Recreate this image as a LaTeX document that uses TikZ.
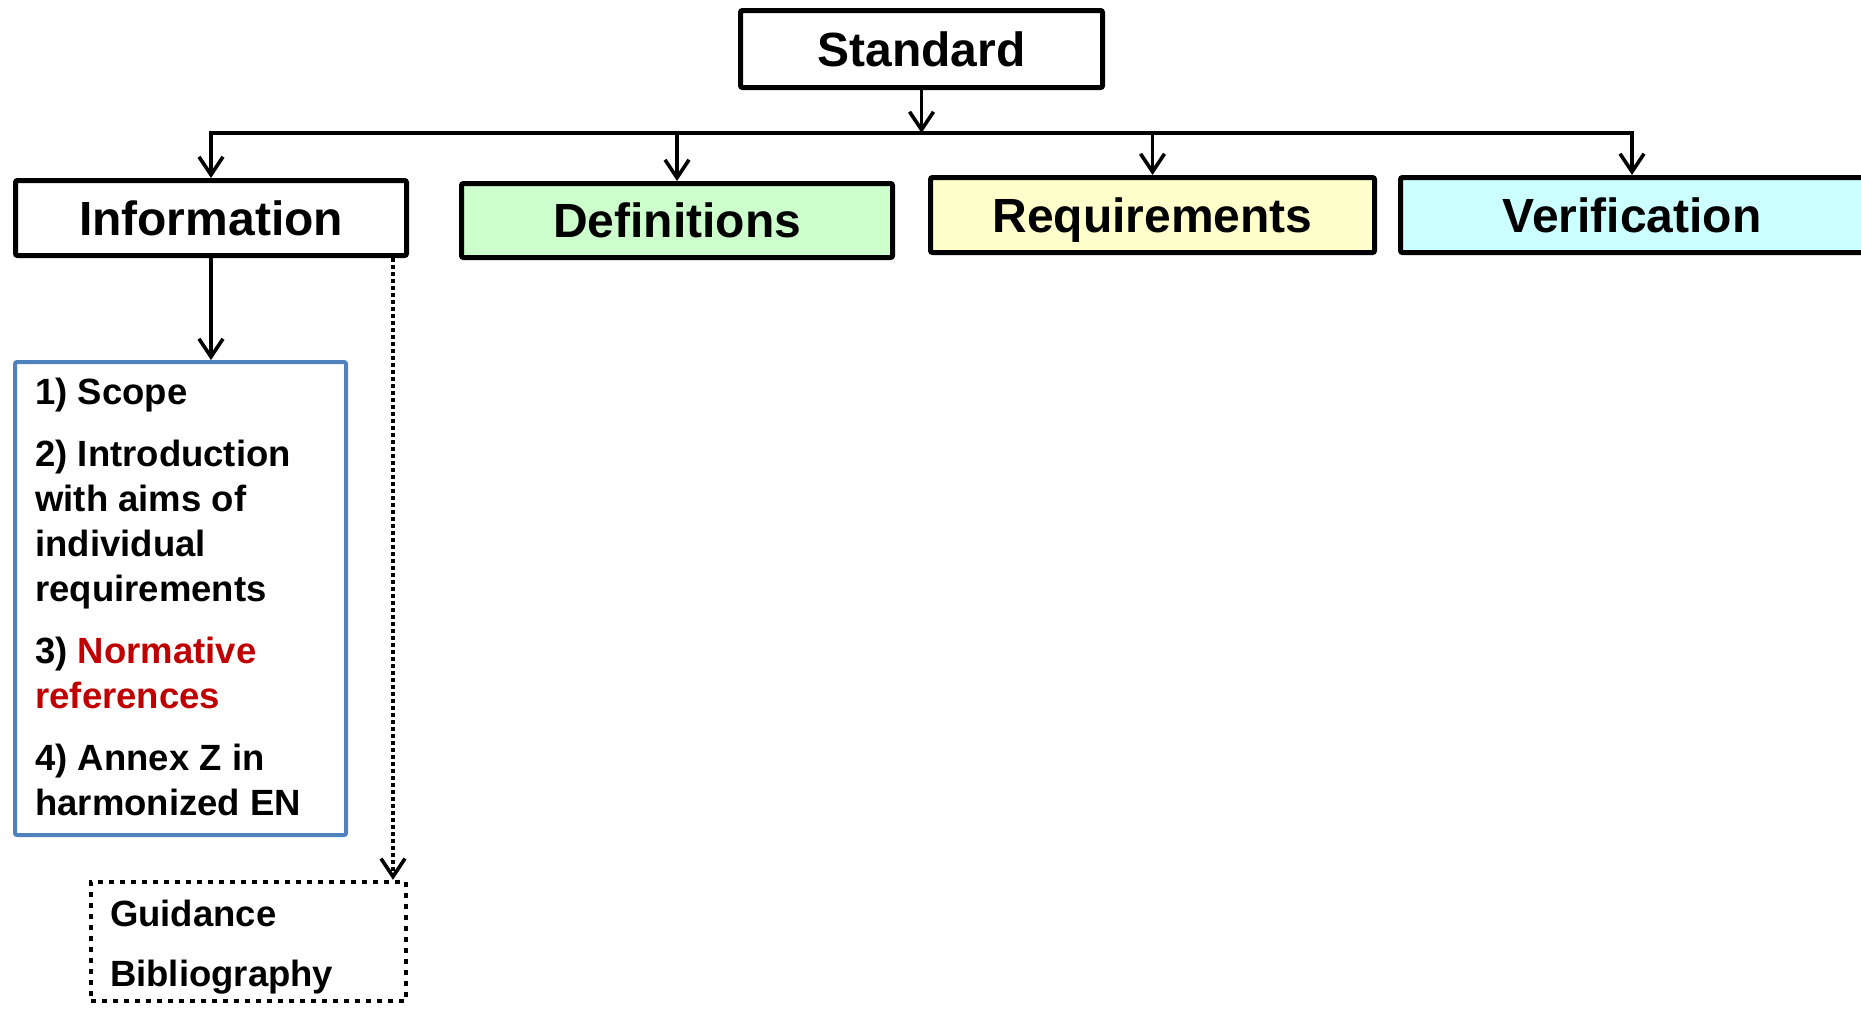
\documentclass[tikz,border=0pt]{standalone}
\usepackage{fontspec}
\setmainfont{Liberation Sans}
\usetikzlibrary{arrows.meta}

\definecolor{defgreen}{HTML}{CCFFCC}
\definecolor{reqyellow}{HTML}{FFFFCC}
\definecolor{vercyan}{HTML}{CCFFFF}
\definecolor{frameblue}{HTML}{4F81BD}
\definecolor{normred}{HTML}{C00000}

\begin{document}
\begin{tikzpicture}[x=0.5pt,y=-0.5pt,
  title/.style={draw=black, line width=2.5pt, rounded corners=1pt,
    font=\fontsize{24}{28}\selectfont\bfseries,
    text height=17.2pt, text depth=0pt, inner sep=0pt},
  bodytext/.style={font=\fontsize{18.25}{22.5}\selectfont\bfseries,
    align=left, inner sep=0pt, anchor=north west},
  tip/.style={-{Straight Barb[length=9pt,width=12pt]}},
  conn/.style={line width=1.8pt, tip},
  dotconn/.style={conn, dash pattern=on 2pt off 1.5pt, line width=1.8pt},
  listframe/.style={draw=frameblue, line width=2pt, rounded corners=1pt, inner sep=0pt},
  dotframe/.style={draw=black, line width=2.25pt, dash pattern=on 2.5pt off 3pt, inner sep=0pt}
]
\useasboundingbox (0,0) rectangle (1861,1008);

% top-level node and the four parts
\node[title, minimum width=181pt, minimum height=38.5pt] (std) at (921.5,49) {Standard};
\node[title, minimum width=195.5pt, minimum height=37.5pt] (info) at (211,218) {Information};
\node[title, fill=defgreen, minimum width=215.5pt, minimum height=37pt] (def) at (677,220.5) {Definitions};
\node[title, fill=reqyellow, minimum width=222pt, minimum height=37.5pt] (req) at (1152.5,215) {Requirements};
\node[title, fill=vercyan, minimum width=231.5pt, minimum height=37.5pt] (ver) at (1632,215) {Verification};

% distribution bus
\coordinate (bus) at (921.5,133);
\draw[conn] (std.south) -- (std.south |- bus);
\draw[line width=1.8pt, {Straight Barb[length=9pt,width=12pt]}-{Straight Barb[length=9pt,width=12pt]}]
  (info.north) |- (bus) -| (ver.north);
\draw[conn] (def.north |- bus) -- (def.north);
\draw[conn] (req.north |- bus) -- (req.north);

% contents of the informative part
\node[listframe, minimum width=165.5pt, minimum height=236.5pt] (list) at (180.5,598.5) {};
\node[bodytext] (listtext) at ([xshift=11pt, yshift=-9pt]list.north west)
  {1) Scope\\[8.5pt]
   2) Introduction\\
   with aims of\\
   individual\\
   requirements\\[8.5pt]
   3) \textcolor{normred}{Normative}\\
   \textcolor{normred}{references}\\[8.5pt]
   4) Annex Z in\\
   harmonized EN};
\draw[conn] (info.south) -- (info.south |- list.north);

% guidance and bibliography
\node[dotframe, minimum width=157.5pt, minimum height=59.5pt] (guide) at (248.5,941.5) {};
\node[bodytext] (guidetext) at ([xshift=10.5pt, yshift=-10pt]guide.north west)
  {Guidance\\[7.5pt]
   Bibliography};
\draw[dotconn] ([xshift=-8pt]info.south east) -- ([xshift=-8pt]info.south east |- guide.north);

\end{tikzpicture}
\end{document}
